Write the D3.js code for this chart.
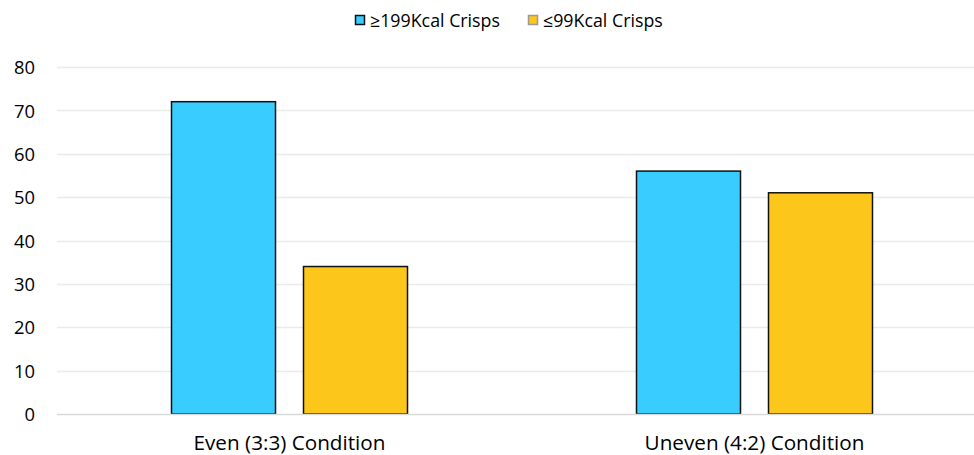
<!DOCTYPE html>
<html><head><meta charset="utf-8">
<script src="https://cdn.jsdelivr.net/npm/d3@7"></script>
<style>body{margin:0;background:#fff}svg{display:block;font-family:"Open Sans",sans-serif}</style>
</head><body><svg id="c" width="974" height="455"></svg>
<script>
const categories = ["Even (3:3) Condition", "Uneven (4:2) Condition"];
const seriesNames = ["≥199Kcal Crisps", "≤99Kcal Crisps"];
const highKcal = [72, 56];
const lowKcal = [34, 51];
const yTicks = [0, 10, 20, 30, 40, 50, 60, 70, 80];
const colors = ["#38CCFF", "#FCC71A"];

(function () {
const svg = d3.select("#c");
const FONT = "'Open Sans', sans-serif";
const pLeft = 57, pRight = 987, pTop = 67, pBottom = 414;
const y = d3.scaleLinear().domain([0, 80]).range([pBottom, pTop]);
const x0 = d3.scaleBand().domain(categories).range([pLeft, pRight]).padding(0);
const bw = x0.bandwidth();
const x1 = d3.scaleBand().domain(seriesNames).range([(bw - 236) / 2, (bw + 236) / 2]).paddingInner(28 / 132).paddingOuter(0);

function fit(sel, targetWidth) {
  const n = sel.node();
  n.setAttribute("font-size", 20);
  const w = n.getComputedTextLength();
  const fs = 20 * targetWidth / w;
  sel.attr("font-size", fs);
  return fs;
}

svg.append("g").selectAll("line").data(yTicks.filter(d => d > 0)).join("line")
  .attr("x1", pLeft).attr("x2", 974).attr("y1", d => Math.round(y(d)) + 0.5).attr("y2", d => Math.round(y(d)) + 0.5)
  .attr("stroke", "#EBEBEB").attr("stroke-width", 1.5);

const yAxis = d3.axisLeft(y).tickValues(yTicks).tickSize(0).tickPadding(22);
const ga = svg.append("g").attr("transform", `translate(${pLeft},0)`).call(yAxis);
ga.select(".domain").remove();
const yt = ga.selectAll("text").attr("fill", "#000").attr("font-family", FONT);
const fsY = fit(ga.selectAll(".tick text").filter(d => d === 80), 21);
yt.attr("font-size", fsY).attr("dy", "0.36em");

const data = categories.map((c, i) => ({c, vals: [highKcal[i], lowKcal[i]]}));
const groups = svg.append("g").selectAll("g").data(data).join("g")
  .attr("transform", d => `translate(${x0(d.c)},0)`);
groups.selectAll("rect").data(d => d.vals.map((v, j) => ({v, s: seriesNames[j], j}))).join("rect")
  .attr("x", d => x1(d.s)).attr("width", x1.bandwidth())
  .attr("y", d => y(d.v)).attr("height", d => y(0) - y(d.v))
  .attr("fill", d => colors[d.j]).attr("stroke", "#111").attr("stroke-width", 1.5);

svg.append("line").attr("x1", pLeft).attr("x2", 974).attr("y1", pBottom + 0.5).attr("y2", pBottom + 0.5)
  .attr("stroke", "#D9D9D9").attr("stroke-width", 1.5);

const xAxis = d3.axisBottom(x0).tickSize(0).tickPadding(0);
const gx = svg.append("g").attr("transform", `translate(0,${pBottom})`).call(xAxis);
gx.select(".domain").remove();
const xt = gx.selectAll("text").attr("fill", "#000").attr("font-family", FONT);
const fsX = fit(gx.selectAll(".tick text").filter(d => d === categories[0]), 192);
xt.attr("font-size", fsX).attr("y", 29).attr("dy", "0.36em");

const legX = [355, 528];
const leg = svg.append("g").selectAll("g").data(seriesNames).join("g")
  .attr("transform", (d, i) => `translate(${legX[i]},15)`);
leg.append("rect").attr("width", 9).attr("height", 9).attr("x", 0.5).attr("y", 0.5)
  .attr("fill", (d, i) => colors[i]).attr("stroke", (d, i) => i === 0 ? "#111" : "#999").attr("stroke-width", 1.5);
const lt = leg.append("text").attr("x", 15).attr("y", 5.5).attr("dy", "0.36em").attr("fill", "#000")
  .attr("font-family", FONT).text(d => d);
const fsL = fit(lt.filter((d, i) => i === 0), 130);
lt.attr("font-size", fsL);
})();
</script></body></html>
